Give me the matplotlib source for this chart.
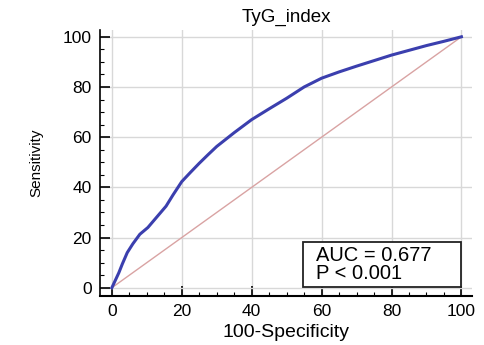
import matplotlib.pyplot as plt
from matplotlib.ticker import MultipleLocator
from matplotlib.patches import Rectangle

# ROC curve points
fpr = [0, 1, 2, 3, 4.4, 6, 8, 10.3, 12.5, 15.5, 17.5, 20, 22.5, 25, 27.5, 30,
       35, 40, 45, 50, 55, 60, 65, 70, 75, 80, 85, 90, 95, 100]
tpr = [0, 3, 6, 9.5, 14, 17.5, 21.3, 24, 27.6, 32.5, 37, 42.3, 46, 49.6, 53, 56.3,
       61.8, 67, 71.3, 75.5, 80, 83.5, 86, 88.3, 90.5, 92.7, 94.6, 96.5, 98.2, 100]
ref = [0, 100]
stats = ['AUC = 0.677', 'P < 0.001']

plt.rcParams['font.family'] = ['Liberation Sans', 'DejaVu Sans']

fig = plt.figure(figsize=(4.84, 3.45), dpi=100)
ax = fig.add_axes([0.2066, 0.142, 0.7684, 0.771])

ax.plot(ref, ref, color='#d9a3a3', linewidth=1, zorder=2)
ax.plot(fpr, tpr, color='#3b3fae', linewidth=2.2, zorder=3)

ax.set_xlim(-3.4, 103)
ax.set_ylim(-3.3, 102.7)
ax.xaxis.set_major_locator(MultipleLocator(20))
ax.yaxis.set_major_locator(MultipleLocator(20))
ax.xaxis.set_minor_locator(MultipleLocator(5))
ax.yaxis.set_minor_locator(MultipleLocator(5))
ax.grid(True, which='major', color='#d8d8d8', linewidth=1)
ax.set_axisbelow(True)

for s in ['top', 'right']:
    ax.spines[s].set_visible(False)
ax.spines['left'].set_linewidth(1.2)
ax.spines['bottom'].set_linewidth(1.5)
ax.tick_params(which='major', direction='in', length=7, width=1.2, labelsize=12.5, pad=6)
ax.tick_params(which='minor', direction='in', length=3, width=0.8)

ax.set_title('TyG_index', fontsize=13.5, pad=6)
ax.set_xlabel('100-Specificity', fontsize=14, labelpad=3)
ax.set_ylabel('Sensitivity', fontsize=11, labelpad=14)

# stats box
ax.add_patch(Rectangle((54.6, 0.3), 45.4, 17.9, facecolor='white',
                       edgecolor='#222222', linewidth=1.3, zorder=4))
ax.text(58.3, 13.0, stats[0], fontsize=14.5, va='center', zorder=5)
ax.text(58.3, 5.6, stats[1], fontsize=14.5, va='center', zorder=5)

fig.savefig('out.png', dpi=100)
